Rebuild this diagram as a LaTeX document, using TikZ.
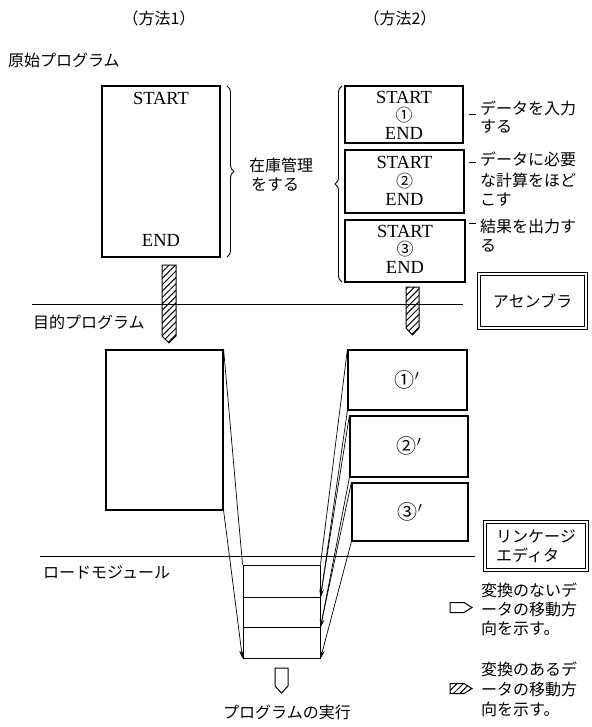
\documentclass[tikz,border=0pt]{standalone}
\usepackage{fontspec}
\setmainfont{Liberation Serif}
\newfontfamily\cjk{Noto Sans CJK JP}
\usetikzlibrary{arrows.meta,patterns.meta,decorations.pathreplacing,calc}
\begin{document}
\begin{tikzpicture}[x=1pt,y=-1pt,
  box/.style={draw,line width=1.2pt,inner sep=0pt},
  jp/.style={font=\cjk\fontsize{16}{19}\selectfont,inner sep=0pt},
  en/.style={font=\fontsize{18.5}{18}\selectfont,inner sep=0pt},
  num/.style={font=\cjk\fontsize{17}{17}\selectfont,inner sep=0pt},
  pnum/.style={font=\fontsize{20}{20}\selectfont,inner sep=0pt},
  conn/.style={line width=0.7pt},
  arr/.style={line width=0.7pt,-{Stealth[length=8pt,width=4.5pt]}},
  sepline/.style={line width=0.8pt},
  hatchar/.style={draw,line width=1pt,pattern={Lines[angle=45,distance=4.5pt,line width=1pt]}},
  hollowar/.style={draw,line width=1pt,fill=white},
  dbox/.style={draw,line width=0.7pt,double,double distance=2.6pt,inner sep=0pt},
  bracestyle/.style={line width=0.9pt,decorate,decoration={brace,amplitude=7pt}},
]
\useasboundingbox (0,0) rectangle (591,727);
\fill[white] (0,0) rectangle (591,727);

% headings
\node[jp] (h1) at (159,18) {（方法1）};
\node[jp] (h2) at (400,18) {（方法2）};
\node[jp,anchor=west] (src) at (8,60) {原始プログラム};

% method 1 source
\node[box,minimum width=118pt,minimum height=171pt] (A) at (161,171.5) {};
\node[en] (As) at (161,98) {START};
\node[en] (Ae) at (161,240) {END};
\draw[bracestyle] (227,86) -- (227,257);
\node[jp,anchor=west] (z1) at (249,165) {在庫管理};
\node[jp,anchor=west] (z2) at (251,185) {をする};

% method 2 source
\node[box,minimum width=118pt,minimum height=57pt] (B1) at (404,114.5) {};
\node[box,minimum width=119pt,minimum height=63pt] (B2) at (404.5,181.5) {};
\node[box,minimum width=120pt,minimum height=62pt] (B3) at (405,251) {};
\node[en] (B1s) at (404,97) {START};
\node[num] (B1n) at (404,115) {①};
\node[en] (B1e) at (404,133) {END};
\node[en] (B2s) at (404.5,162) {START};
\node[num] (B2n) at (404.5,181) {②};
\node[en] (B2e) at (404.5,199) {END};
\node[en] (B3s) at (405,231) {START};
\node[num] (B3n) at (405,249) {③};
\node[en] (B3e) at (405,267) {END};
\draw[bracestyle] (342,282) -- (342,86);

\draw[line width=0.8pt] (469,114) -- (476,114);
\draw[line width=0.8pt] (469,162) -- (476,162);
\draw[line width=0.8pt] (469,223) -- (476,223);
\node[jp,anchor=west] (l11) at (480,108) {データを入力};
\node[jp,anchor=west] (l12) at (480,127) {する};
\node[jp,anchor=west] (l21) at (480,159) {データに必要};
\node[jp,anchor=west] (l22) at (480,180) {な計算をほど};
\node[jp,anchor=west] (l23) at (480,200) {こす};
\node[jp,anchor=west] (l31) at (480,226) {結果を出力す};
\node[jp,anchor=west] (l32) at (480,246) {る};

% assembler level
\draw[sepline] (32,304) -- (463,304);
\node[jp,anchor=west] (obj) at (33,322) {目的プログラム};
\node[dbox,minimum width=107pt,minimum height=54pt] (asm) at (532.5,301) {};
\node[jp] (asmt) at (532.5,301) {アセンブラ};

\path[hatchar] (162,265) -- (176,265) -- (176,336) -- (169,343) -- (162,336) -- cycle;
\path[hatchar] (406,287) -- (419,287) -- (419,328) -- (412.5,335) -- (406,328) -- cycle;

% object programs
\node[box,minimum width=117pt,minimum height=160pt] (C) at (164.5,430) {};
\node[box,minimum width=119pt,minimum height=60pt] (P1) at (407.5,380) {};
\node[box,minimum width=118pt,minimum height=61pt] (P2) at (409,446.5) {};
\node[box,minimum width=116pt,minimum height=58pt] (P3) at (410,512) {};
\node[pnum] (P1t) at (407,380) {{\cjk ①}$'$};
\node[pnum] (P2t) at (409,446) {{\cjk ②}$'$};
\node[pnum] (P3t) at (410,512) {{\cjk ③}$'$};

% linkage level
\draw[sepline] (40,556) -- (475,556);
\node[jp,anchor=west] (lmt) at (43,572) {ロードモジュール};
\node[dbox,minimum width=102pt,minimum height=48pt] (lnk) at (536,546) {};
\node[jp,align=left] (lnkt) at (536,546) {リンケージ\\エディタ};

% load module
\node[box,line width=1pt,minimum width=77pt,minimum height=32pt] (L1) at (281.5,581) {};
\node[box,line width=1pt,minimum width=77pt,minimum height=30pt] (L2) at (281.5,612) {};
\node[box,line width=1pt,minimum width=77pt,minimum height=31pt] (L3) at (281.5,642.5) {};

% connectors
\draw[conn] (C.north east) -- (L1.north west);
\draw[arr] (C.south east) -- (L3.south west);
\draw[conn] (P1.north west) -- (L1.north east);
\draw[arr] (P1.south west) -- (L1.south east);
\draw[conn] (P2.north west) -- (L2.north east);
\draw[arr] (P2.south west) -- (L2.south east);
\draw[conn] (P3.north west) -- (L3.north east);
\draw[arr] (P3.south west) -- (L3.south east);

% execution
\path[hollowar] (275,668) -- (288,668) -- (288,686) -- (281.5,693) -- (275,686) -- cycle;
\node[jp] (exe) at (287,712) {プログラムの実行};

% legend
\path[hollowar] (450,602.5) -- (464,602.5) -- (472,607.5) -- (464,612.5) -- (450,612.5) -- cycle;
\node[jp,anchor=west] (g11) at (481,590) {変換のないデ};
\node[jp,anchor=west] (g12) at (481,609) {ータの移動方};
\node[jp,anchor=west] (g13) at (481,628) {向を示す。};
\path[hatchar] (450,683.5) -- (464,683.5) -- (472,688.5) -- (464,693.5) -- (450,693.5) -- cycle;
\node[jp,anchor=west] (g21) at (481,669) {変換のあるデ};
\node[jp,anchor=west] (g22) at (481,689) {ータの移動方};
\node[jp,anchor=west] (g23) at (481,709) {向を示す。};
\end{tikzpicture}
\end{document}
